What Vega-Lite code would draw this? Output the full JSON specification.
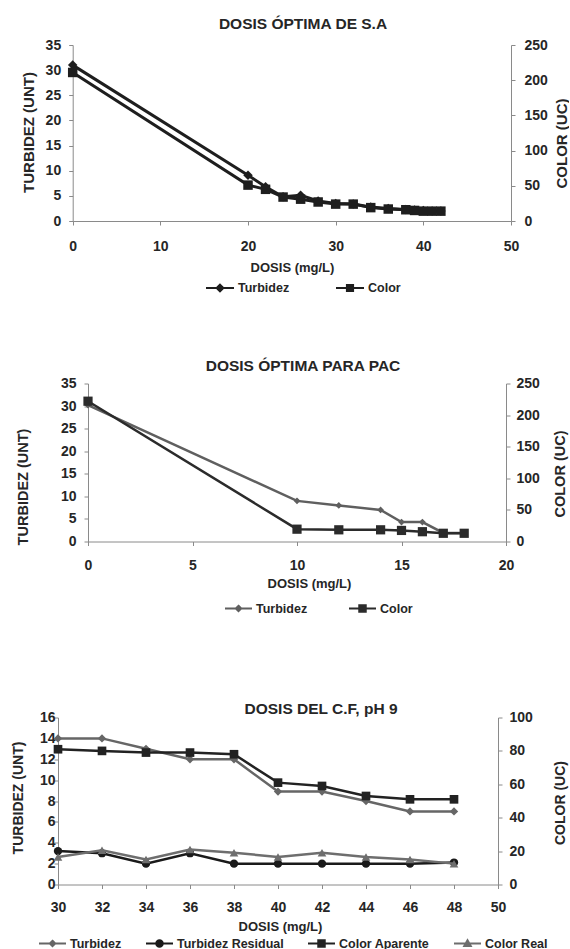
{
  "$schema": "https://vega.github.io/schema/vega-lite/v6.json",
  "background": "white",
  "padding": {"left": 11, "top": 17, "right": 0, "bottom": 0},
  "config": {
    "font": "Liberation Sans",
    "view": {"stroke": null},
    "axis": {"grid": false, "domainColor": "#8a8a8a", "tickColor": "#8a8a8a", "tickSize": 4, "labelFont": "Liberation Sans", "labelFontWeight": "bold", "labelFontSize": 14, "labelColor": "#262626", "titleFont": "Liberation Sans", "titleFontWeight": "bold", "titleColor": "#262626", "labelFlush": false, "labelOverlap": false},
    "title": {"font": "Liberation Sans", "fontWeight": "bold", "fontSize": 15.5, "color": "#262626", "anchor": "middle", "frame": "group"},
    "legend": {"orient": "none", "direction": "horizontal", "labelFont": "Liberation Sans", "labelFontWeight": "bold", "labelFontSize": 12.5, "labelColor": "#262626", "symbolStrokeWidth": 2, "padding": 0, "labelOffset": 3, "clipHeight": 14, "title": null}
  },
  "concat": [
    {
      "concat": [
        {
          "width": 453, "height": 176,
          "title": {"text": "DOSIS ÓPTIMA DE S.A", "dx": 18.5, "offset": 5.5},
          "data": {"values": [
            {"dosis": 0, "serie": "Turbidez", "valor": 31},
            {"dosis": 20, "serie": "Turbidez", "valor": 9.1},
            {"dosis": 22, "serie": "Turbidez", "valor": 6.8},
            {"dosis": 24, "serie": "Turbidez", "valor": 4.8},
            {"dosis": 26, "serie": "Turbidez", "valor": 5.1},
            {"dosis": 28, "serie": "Turbidez", "valor": 4.0},
            {"dosis": 30, "serie": "Turbidez", "valor": 3.5},
            {"dosis": 32, "serie": "Turbidez", "valor": 3.4},
            {"dosis": 34, "serie": "Turbidez", "valor": 2.8},
            {"dosis": 36, "serie": "Turbidez", "valor": 2.5},
            {"dosis": 38, "serie": "Turbidez", "valor": 2.3},
            {"dosis": 39, "serie": "Turbidez", "valor": 2.2},
            {"dosis": 40, "serie": "Turbidez", "valor": 2.1},
            {"dosis": 41, "serie": "Turbidez", "valor": 2.0},
            {"dosis": 42, "serie": "Turbidez", "valor": 2.0},
            {"dosis": 0, "serie": "Color", "valor": 211},
            {"dosis": 20, "serie": "Color", "valor": 51},
            {"dosis": 22, "serie": "Color", "valor": 45},
            {"dosis": 24, "serie": "Color", "valor": 34},
            {"dosis": 26, "serie": "Color", "valor": 31},
            {"dosis": 28, "serie": "Color", "valor": 27},
            {"dosis": 30, "serie": "Color", "valor": 24},
            {"dosis": 32, "serie": "Color", "valor": 24},
            {"dosis": 34, "serie": "Color", "valor": 19},
            {"dosis": 36, "serie": "Color", "valor": 17},
            {"dosis": 38, "serie": "Color", "valor": 16},
            {"dosis": 39, "serie": "Color", "valor": 15},
            {"dosis": 40, "serie": "Color", "valor": 14},
            {"dosis": 41, "serie": "Color", "valor": 14},
            {"dosis": 42, "serie": "Color", "valor": 14}
          ]},
          "encoding": {
            "x": {"field": "dosis", "type": "quantitative", "scale": {"domain": [0, 50], "range": [14.7, 453], "nice": false}, "axis": {"values": [0, 10, 20, 30, 40, 50], "title": "DOSIS (mg/L)", "labelPadding": 14, "titleFontSize": 13, "titleY": 46.7, "titleX": 234, "titleBaseline": "middle"}}
          },
          "layer": [
            {
              "transform": [{"filter": "datum.serie === 'Turbidez'"}],
              "encoding": {
                "y": {"field": "valor", "type": "quantitative", "scale": {"domain": [0, 35], "nice": false}, "axis": {"orient": "left", "offset": -14.7, "values": [0, 5, 10, 15, 20, 25, 30, 35], "title": "TURBIDEZ (UNT)", "titleFontSize": 15, "labelPadding": 8, "titleAngle": 270, "titleBaseline": "middle", "titleAlign": "center", "titleX": -44, "titleY": 87}},
                "color": {"field": "serie", "type": "nominal", "scale": {"domain": ["Turbidez", "Color"], "range": ["#1e1e1e", "#1e1e1e"]}, "legend": null},
                "shape": {"field": "serie", "type": "nominal", "scale": {"domain": ["Turbidez", "Color"], "range": ["diamond", "square"]}, "legend": null}
              },
              "layer": [
                {"mark": {"type": "line", "strokeWidth": 3}},
                {"mark": {"type": "point", "filled": true, "size": 90, "opacity": 1}}
              ]
            },
            {
              "transform": [{"filter": "datum.serie === 'Color'"}],
              "encoding": {
                "y": {"field": "valor", "type": "quantitative", "scale": {"domain": [0, 250], "nice": false}, "axis": {"orient": "right", "values": [0, 50, 100, 150, 200, 250], "title": "COLOR (UC)", "titleFontSize": 15, "labelPadding": 9, "titleAngle": 270, "titleBaseline": "middle", "titleAlign": "center", "titleX": 50, "titleY": 98}},
                "color": {"field": "serie", "type": "nominal", "scale": {"domain": ["Turbidez", "Color"], "range": ["#1e1e1e", "#1e1e1e"]}, "legend": null},
                "shape": {"field": "serie", "type": "nominal", "scale": {"domain": ["Turbidez", "Color"], "range": ["diamond", "square"]}, "legend": null}
              },
              "layer": [
                {"mark": {"type": "line", "strokeWidth": 3}},
                {"mark": {"type": "point", "filled": true, "size": 90, "opacity": 1}}
              ]
            },
            {
              "transform": [{"filter": "false"}],
              "mark": {"type": "point", "strokeWidth": 2, "size": 784, "opacity": 1},
              "encoding": {
                "fill": {"field": "serie", "type": "nominal", "scale": {"domain": ["Turbidez", "Color"], "range": ["#1e1e1e", "#1e1e1e"]}, "legend": {"legendX": 147, "legendY": 236, "columns": 2, "columnPadding": 45, "symbolSize": 784}},
                "stroke": {"field": "serie", "type": "nominal", "scale": {"domain": ["Turbidez", "Color"], "range": ["#1e1e1e", "#1e1e1e"]}, "legend": {"legendX": 147, "legendY": 236, "columns": 2, "columnPadding": 45, "symbolSize": 784}},
                "shape": {"field": "serie", "type": "nominal", "scale": {"domain": ["Turbidez", "Color"], "range": ["M-1,0H1M0,-0.24L0.24,0L0,0.24L-0.24,0Z", "M-1,0H1M-0.22,-0.22H0.22V0.22H-0.22Z"]}, "legend": {"legendX": 147, "legendY": 236, "columns": 2, "columnPadding": 45, "symbolSize": 784}}
              }
            }
          ],
          "resolve": {"scale": {"y": "independent", "color": "independent", "shape": "independent", "fill": "independent", "stroke": "independent"}}
        },
        {
          "width": 448, "height": 158,
          "title": {"text": "DOSIS ÓPTIMA  PARA PAC", "dx": 21, "offset": 2.5},
          "data": {"values": [
            {"dosis": 0, "serie": "Turbidez", "valor": 30.2},
            {"dosis": 10, "serie": "Turbidez", "valor": 9},
            {"dosis": 12, "serie": "Turbidez", "valor": 8},
            {"dosis": 14, "serie": "Turbidez", "valor": 7},
            {"dosis": 15, "serie": "Turbidez", "valor": 4.3},
            {"dosis": 16, "serie": "Turbidez", "valor": 4.3},
            {"dosis": 17, "serie": "Turbidez", "valor": 1.9},
            {"dosis": 18, "serie": "Turbidez", "valor": 1.9},
            {"dosis": 0, "serie": "Color", "valor": 222},
            {"dosis": 10, "serie": "Color", "valor": 19.5},
            {"dosis": 12, "serie": "Color", "valor": 18.5},
            {"dosis": 14, "serie": "Color", "valor": 18.5},
            {"dosis": 15, "serie": "Color", "valor": 17.5},
            {"dosis": 16, "serie": "Color", "valor": 15.5},
            {"dosis": 17, "serie": "Color", "valor": 13},
            {"dosis": 18, "serie": "Color", "valor": 13}
          ]},
          "encoding": {
            "x": {"field": "dosis", "type": "quantitative", "scale": {"domain": [0, 20], "range": [30, 448], "nice": false}, "axis": {"values": [0, 5, 10, 15, 20], "title": "DOSIS (mg/L)", "labelPadding": 13, "titleFontSize": 13, "titleY": 42, "titleX": 251, "titleBaseline": "middle"}}
          },
          "layer": [
            {
              "transform": [{"filter": "datum.serie === 'Turbidez'"}],
              "encoding": {
                "y": {"field": "valor", "type": "quantitative", "scale": {"domain": [0, 35], "nice": false}, "axis": {"orient": "left", "offset": -30, "values": [0, 5, 10, 15, 20, 25, 30, 35], "title": "TURBIDEZ (UNT)", "titleFontSize": 14.5, "labelPadding": 8, "titleAngle": 270, "titleBaseline": "middle", "titleAlign": "center", "titleX": -64.4, "titleY": 103}},
                "color": {"field": "serie", "type": "nominal", "scale": {"domain": ["Turbidez", "Color"], "range": ["#5f5f5f", "#2b2b2b"]}, "legend": null},
                "shape": {"field": "serie", "type": "nominal", "scale": {"domain": ["Turbidez", "Color"], "range": ["diamond", "square"]}, "legend": null}
              },
              "layer": [
                {"mark": {"type": "line", "strokeWidth": 2.5}},
                {"mark": {"type": "point", "filled": true, "size": 45, "opacity": 1}}
              ]
            },
            {
              "transform": [{"filter": "datum.serie === 'Color'"}],
              "encoding": {
                "y": {"field": "valor", "type": "quantitative", "scale": {"domain": [0, 250], "nice": false}, "axis": {"orient": "right", "values": [0, 50, 100, 150, 200, 250], "title": "COLOR (UC)", "titleFontSize": 14.5, "labelPadding": 6, "titleAngle": 270, "titleBaseline": "middle", "titleAlign": "center", "titleX": 54, "titleY": 90}},
                "color": {"field": "serie", "type": "nominal", "scale": {"domain": ["Turbidez", "Color"], "range": ["#5f5f5f", "#2b2b2b"]}, "legend": null},
                "shape": {"field": "serie", "type": "nominal", "scale": {"domain": ["Turbidez", "Color"], "range": ["diamond", "square"]}, "legend": null}
              },
              "layer": [
                {"mark": {"type": "line", "strokeWidth": 2.5}},
                {"mark": {"type": "point", "filled": true, "size": 85, "opacity": 1}}
              ]
            },
            {
              "transform": [{"filter": "false"}],
              "mark": {"type": "point", "strokeWidth": 2, "size": 729, "opacity": 1},
              "encoding": {
                "fill": {"field": "serie", "type": "nominal", "scale": {"domain": ["Turbidez", "Color"], "range": ["#5f5f5f", "#2b2b2b"]}, "legend": {"legendX": 166, "legendY": 218, "columns": 2, "columnPadding": 40, "symbolSize": 729}},
                "stroke": {"field": "serie", "type": "nominal", "scale": {"domain": ["Turbidez", "Color"], "range": ["#5f5f5f", "#2b2b2b"]}, "legend": {"legendX": 166, "legendY": 218, "columns": 2, "columnPadding": 40, "symbolSize": 729}},
                "shape": {"field": "serie", "type": "nominal", "scale": {"domain": ["Turbidez", "Color"], "range": ["M-1,0H1M0,-0.2L0.2,0L0,0.2L-0.2,0Z", "M-1,0H1M-0.24,-0.24H0.24V0.24H-0.24Z"]}, "legend": {"legendX": 166, "legendY": 218, "columns": 2, "columnPadding": 40, "symbolSize": 729}}
              }
            }
          ],
          "resolve": {"scale": {"y": "independent", "color": "independent", "shape": "independent", "fill": "independent", "stroke": "independent"}}
        }
      ],
      "columns": 1,
      "align": "none",
      "spacing": 63.5,
      "resolve": {"scale": {"color": "independent", "shape": "independent", "fill": "independent", "stroke": "independent"}, "legend": {"color": "independent", "shape": "independent", "fill": "independent", "stroke": "independent"}}
    },
    {
      "width": 440, "height": 167,
      "title": {"text": "DOSIS DEL C.F, pH 9", "dx": 43, "offset": -6.5},
      "data": {"values": [
        {"dosis": 30, "serie": "Turbidez", "valor": 14},
        {"dosis": 32, "serie": "Turbidez", "valor": 14},
        {"dosis": 34, "serie": "Turbidez", "valor": 13},
        {"dosis": 36, "serie": "Turbidez", "valor": 12},
        {"dosis": 38, "serie": "Turbidez", "valor": 12},
        {"dosis": 40, "serie": "Turbidez", "valor": 8.9},
        {"dosis": 42, "serie": "Turbidez", "valor": 8.9},
        {"dosis": 44, "serie": "Turbidez", "valor": 8},
        {"dosis": 46, "serie": "Turbidez", "valor": 7},
        {"dosis": 48, "serie": "Turbidez", "valor": 7},
        {"dosis": 30, "serie": "Turbidez Residual", "valor": 3.2},
        {"dosis": 32, "serie": "Turbidez Residual", "valor": 3.0},
        {"dosis": 34, "serie": "Turbidez Residual", "valor": 2.0},
        {"dosis": 36, "serie": "Turbidez Residual", "valor": 3.0},
        {"dosis": 38, "serie": "Turbidez Residual", "valor": 2.0},
        {"dosis": 40, "serie": "Turbidez Residual", "valor": 2.0},
        {"dosis": 42, "serie": "Turbidez Residual", "valor": 2.0},
        {"dosis": 44, "serie": "Turbidez Residual", "valor": 2.0},
        {"dosis": 46, "serie": "Turbidez Residual", "valor": 2.0},
        {"dosis": 48, "serie": "Turbidez Residual", "valor": 2.1},
        {"dosis": 30, "serie": "Color Aparente", "valor": 81},
        {"dosis": 32, "serie": "Color Aparente", "valor": 80},
        {"dosis": 34, "serie": "Color Aparente", "valor": 79},
        {"dosis": 36, "serie": "Color Aparente", "valor": 79},
        {"dosis": 38, "serie": "Color Aparente", "valor": 78},
        {"dosis": 40, "serie": "Color Aparente", "valor": 61},
        {"dosis": 42, "serie": "Color Aparente", "valor": 59},
        {"dosis": 44, "serie": "Color Aparente", "valor": 53},
        {"dosis": 46, "serie": "Color Aparente", "valor": 51},
        {"dosis": 48, "serie": "Color Aparente", "valor": 51},
        {"dosis": 30, "serie": "Color Real", "valor": 16.5},
        {"dosis": 32, "serie": "Color Real", "valor": 20.5},
        {"dosis": 34, "serie": "Color Real", "valor": 15},
        {"dosis": 36, "serie": "Color Real", "valor": 21},
        {"dosis": 38, "serie": "Color Real", "valor": 19},
        {"dosis": 40, "serie": "Color Real", "valor": 16.5},
        {"dosis": 42, "serie": "Color Real", "valor": 19},
        {"dosis": 44, "serie": "Color Real", "valor": 16.5},
        {"dosis": 46, "serie": "Color Real", "valor": 15},
        {"dosis": 48, "serie": "Color Real", "valor": 12.5}
      ]},
      "encoding": {
        "x": {"field": "dosis", "type": "quantitative", "scale": {"domain": [30, 50], "nice": false}, "axis": {"values": [30, 32, 34, 36, 38, 40, 42, 44, 46, 48, 50], "title": "DOSIS (mg/L)", "labelPadding": 12, "titleFontSize": 13, "titleY": 41.5, "titleX": 222, "titleBaseline": "middle"}}
      },
      "layer": [
        {
          "transform": [{"filter": "datum.serie === 'Turbidez' || datum.serie === 'Turbidez Residual'"}],
          "encoding": {
            "y": {"field": "valor", "type": "quantitative", "scale": {"domain": [0, 16], "nice": false}, "axis": {"orient": "left", "values": [0, 2, 4, 6, 8, 10, 12, 14, 16], "title": "TURBIDEZ (UNT)", "titleFontSize": 14, "labelPadding": -1, "titleAngle": 270, "titleBaseline": "middle", "titleAlign": "center", "titleX": -40, "titleY": 80}},
            "color": {"field": "serie", "type": "nominal", "scale": {"domain": ["Turbidez", "Turbidez Residual", "Color Aparente", "Color Real"], "range": ["#666666", "#1a1a1a", "#222222", "#6e6e6e"]}, "legend": null},
            "shape": {"field": "serie", "type": "nominal", "scale": {"domain": ["Turbidez", "Turbidez Residual", "Color Aparente", "Color Real"], "range": ["diamond", "circle", "square", "triangle-up"]}, "legend": null}
          },
          "layer": [
            {"mark": {"type": "line", "strokeWidth": 2.5}},
            {"mark": {"type": "point", "filled": true, "size": 70, "opacity": 1}}
          ]
        },
        {
          "transform": [{"filter": "datum.serie === 'Color Aparente' || datum.serie === 'Color Real'"}],
          "encoding": {
            "y": {"field": "valor", "type": "quantitative", "scale": {"domain": [0, 100], "nice": false}, "axis": {"orient": "right", "values": [0, 20, 40, 60, 80, 100], "title": "COLOR (UC)", "titleFontSize": 14, "labelPadding": 7, "titleAngle": 270, "titleBaseline": "middle", "titleAlign": "center", "titleX": 62, "titleY": 85}},
            "color": {"field": "serie", "type": "nominal", "scale": {"domain": ["Turbidez", "Turbidez Residual", "Color Aparente", "Color Real"], "range": ["#666666", "#1a1a1a", "#222222", "#6e6e6e"]}, "legend": null},
            "shape": {"field": "serie", "type": "nominal", "scale": {"domain": ["Turbidez", "Turbidez Residual", "Color Aparente", "Color Real"], "range": ["diamond", "circle", "square", "triangle-up"]}, "legend": null}
          },
          "layer": [
            {"mark": {"type": "line", "strokeWidth": 2.5}},
            {"mark": {"type": "point", "filled": true, "size": 75, "opacity": 1}}
          ]
        },
        {
          "transform": [{"filter": "false"}],
          "mark": {"type": "point", "strokeWidth": 2, "size": 729, "opacity": 1},
          "encoding": {
            "fill": {"field": "serie", "type": "nominal", "scale": {"domain": ["Turbidez", "Turbidez Residual", "Color Aparente", "Color Real"], "range": ["#666666", "#1a1a1a", "#222222", "#6e6e6e"]}, "legend": {"legendX": -20, "legendY": 219, "columns": 4, "columnPadding": 23, "symbolSize": 729}},
            "stroke": {"field": "serie", "type": "nominal", "scale": {"domain": ["Turbidez", "Turbidez Residual", "Color Aparente", "Color Real"], "range": ["#666666", "#1a1a1a", "#222222", "#6e6e6e"]}, "legend": {"legendX": -20, "legendY": 219, "columns": 4, "columnPadding": 23, "symbolSize": 729}},
            "shape": {"field": "serie", "type": "nominal", "scale": {"domain": ["Turbidez", "Turbidez Residual", "Color Aparente", "Color Real"], "range": ["M-1,0H1M0,-0.2L0.2,0L0,0.2L-0.2,0Z", "M-1,0H1M-0.24,0A0.24,0.24,0,1,0,0.24,0A0.24,0.24,0,1,0,-0.24,0Z", "M-1,0H1M-0.24,-0.24H0.24V0.24H-0.24Z", "M-1,0H1M0,-0.24L0.24,0.18H-0.24Z"]}, "legend": {"legendX": -20, "legendY": 219, "columns": 4, "columnPadding": 23, "symbolSize": 729}}
          }
        }
      ],
      "resolve": {"scale": {"y": "independent", "color": "independent", "shape": "independent", "fill": "independent", "stroke": "independent"}}
    }
  ],
  "columns": 1,
  "align": "none",
  "spacing": 85.5,
  "resolve": {"scale": {"color": "independent", "shape": "independent", "fill": "independent", "stroke": "independent"}, "legend": {"color": "independent", "shape": "independent", "fill": "independent", "stroke": "independent"}}
}
